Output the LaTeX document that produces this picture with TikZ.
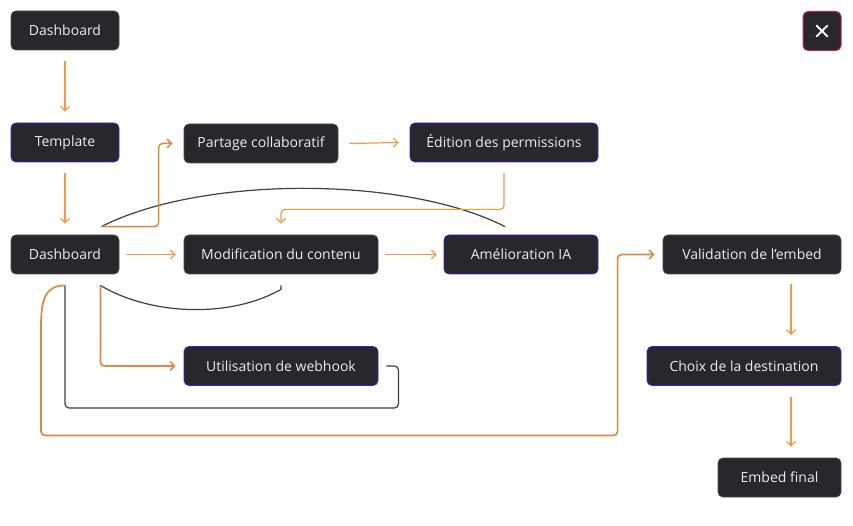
\documentclass[tikz,border=0pt]{standalone}
\usepackage{fontspec}
\setmainfont{Open Sans}
\usetikzlibrary{arrows.meta,calc}
\definecolor{nodefill}{HTML}{28282C}
\definecolor{nodeborder}{HTML}{48484E}
\definecolor{blueborder}{HTML}{3B1FD8}
\definecolor{redborder}{HTML}{C42350}
\definecolor{textcol}{HTML}{ECECEC}
\definecolor{orangeA}{HTML}{F39A40}
\definecolor{orangeB}{HTML}{DB8A3E}
\definecolor{darkline}{HTML}{3F3F46}
\tikzset{
  box/.style={rectangle, rounded corners=5pt, fill=nodefill, draw=nodeborder, line width=0.8pt,
    text=textcol, font=\fontsize{14}{16}\selectfont, minimum height=39pt, inner sep=0pt},
  bluebox/.style={box, draw=blueborder},
  redbox/.style={box, draw=redborder, line width=1pt},
  tipA/.tip={Straight Barb[length=4.5pt,width=9pt,line width=1.2pt]},
  oarrow/.style={draw=orangeA, line width=1.2pt, -tipA},
  oarrowB/.style={draw=orangeB, line width=1.7pt, -{Straight Barb[length=4.5pt,width=9pt,line width=1.5pt]}, rounded corners=4pt},
  dline/.style={draw=darkline, line width=1.2pt, rounded corners=4pt},
}
\begin{document}
\begin{tikzpicture}[x=1pt,y=-1pt]
\useasboundingbox[fill=white] (0,0) rectangle (853,526);
% nodes
\node[box, minimum width=108pt] (d1) at (65,30.5) {Dashboard};
\node[redbox, minimum width=38pt] (close) at (822,31) {};
\draw[white, line width=2pt, line cap=round] ($(close.center)+(-5.5,-5.5)$) -- ($(close.center)+(5.5,5.5)$);
\draw[white, line width=2pt, line cap=round] ($(close.center)+(-5.5,5.5)$) -- ($(close.center)+(5.5,-5.5)$);
\node[bluebox, minimum width=108pt] (tpl) at (65,142.5) {Template};
\node[box, minimum width=154pt] (share) at (261,143.5) {Partage collaboratif};
\node[bluebox, minimum width=188pt] (perm) at (504,142.5) {Édition des permissions};
\node[box, minimum width=108pt] (d2) at (65,254.5) {Dashboard};
\node[box, minimum width=194pt] (mod) at (281,254.5) {Modification du contenu};
\node[bluebox, minimum width=154pt] (ia) at (521,254.5) {Amélioration IA};
\node[box, minimum width=178pt] (valid) at (752,254.5) {Validation de l’embed};
\node[bluebox, minimum width=194pt] (webhook) at (281,366) {Utilisation de webhook};
\node[bluebox, minimum width=194pt] (dest) at (744,366) {Choix de la destination};
\node[box, minimum width=123pt] (final) at (779.5,477.5) {Embed final};
% anchor coordinates
\coordinate (d2top) at ([xshift=-18pt,yshift=8pt]d2.north east);
\coordinate (d2bot) at ([xshift=-19pt,yshift=-11pt]d2.south east);
\coordinate (d2mid) at ([yshift=-11pt]d2.south);
\coordinate (iatop) at ([xshift=-16pt,yshift=8pt]ia.north);
% connectors
\draw[oarrow] ([yshift=-11pt]d1.south) -- ([yshift=11pt]tpl.north);
\draw[oarrow] ([yshift=-11pt]tpl.south) -- ([yshift=11pt]d2.north);
\draw[darkline, line width=1.2pt] (d2top) .. controls +(100,-51) and +(-100,-51) .. (iatop);
\draw[oarrowB, line width=1.5pt] (d2top) -| ($(share.west)+(-25,0)$) -- ([xshift=-11pt]share.west);
\draw[oarrow] ([xshift=11pt]share.east) -- ([xshift=-11pt]perm.west);
\draw[oarrow, rounded corners=4pt] ([yshift=-11pt]perm.south) -- ++(0,36) -| ([yshift=11pt]mod.north);
\draw[oarrow] ([xshift=7pt]d2.east) -- ([xshift=-8pt]mod.west);
\draw[oarrow] ([xshift=7pt]mod.east) -- ([xshift=-7pt]ia.west);
\draw[darkline, line width=1.2pt] ([yshift=-11pt]mod.south) -- ++(0,4) .. controls +(-51,29) and +(50,30) .. (d2bot);
\draw[oarrowB] (d2bot) |- ([xshift=-8pt]webhook.west);
\draw[dline] ([xshift=8pt]webhook.east) -- ++(12,0) -- ++(0,42) -| (d2mid);
\draw[oarrowB] (d2mid) .. controls +(-20,0) and +(0,-30) .. ++(-24,45) -- ++(0,105) -| ($(valid.west)+(-45,0)$) -- ([xshift=-8pt]valid.west);
\draw[oarrow] ([xshift=39pt,yshift=-10pt]valid.south) -- ([xshift=47pt,yshift=11pt]dest.north);
\draw[oarrow] ([xshift=47pt,yshift=-11pt]dest.south) -- ([xshift=11.5pt,yshift=11pt]final.north);
\end{tikzpicture}
\end{document}
